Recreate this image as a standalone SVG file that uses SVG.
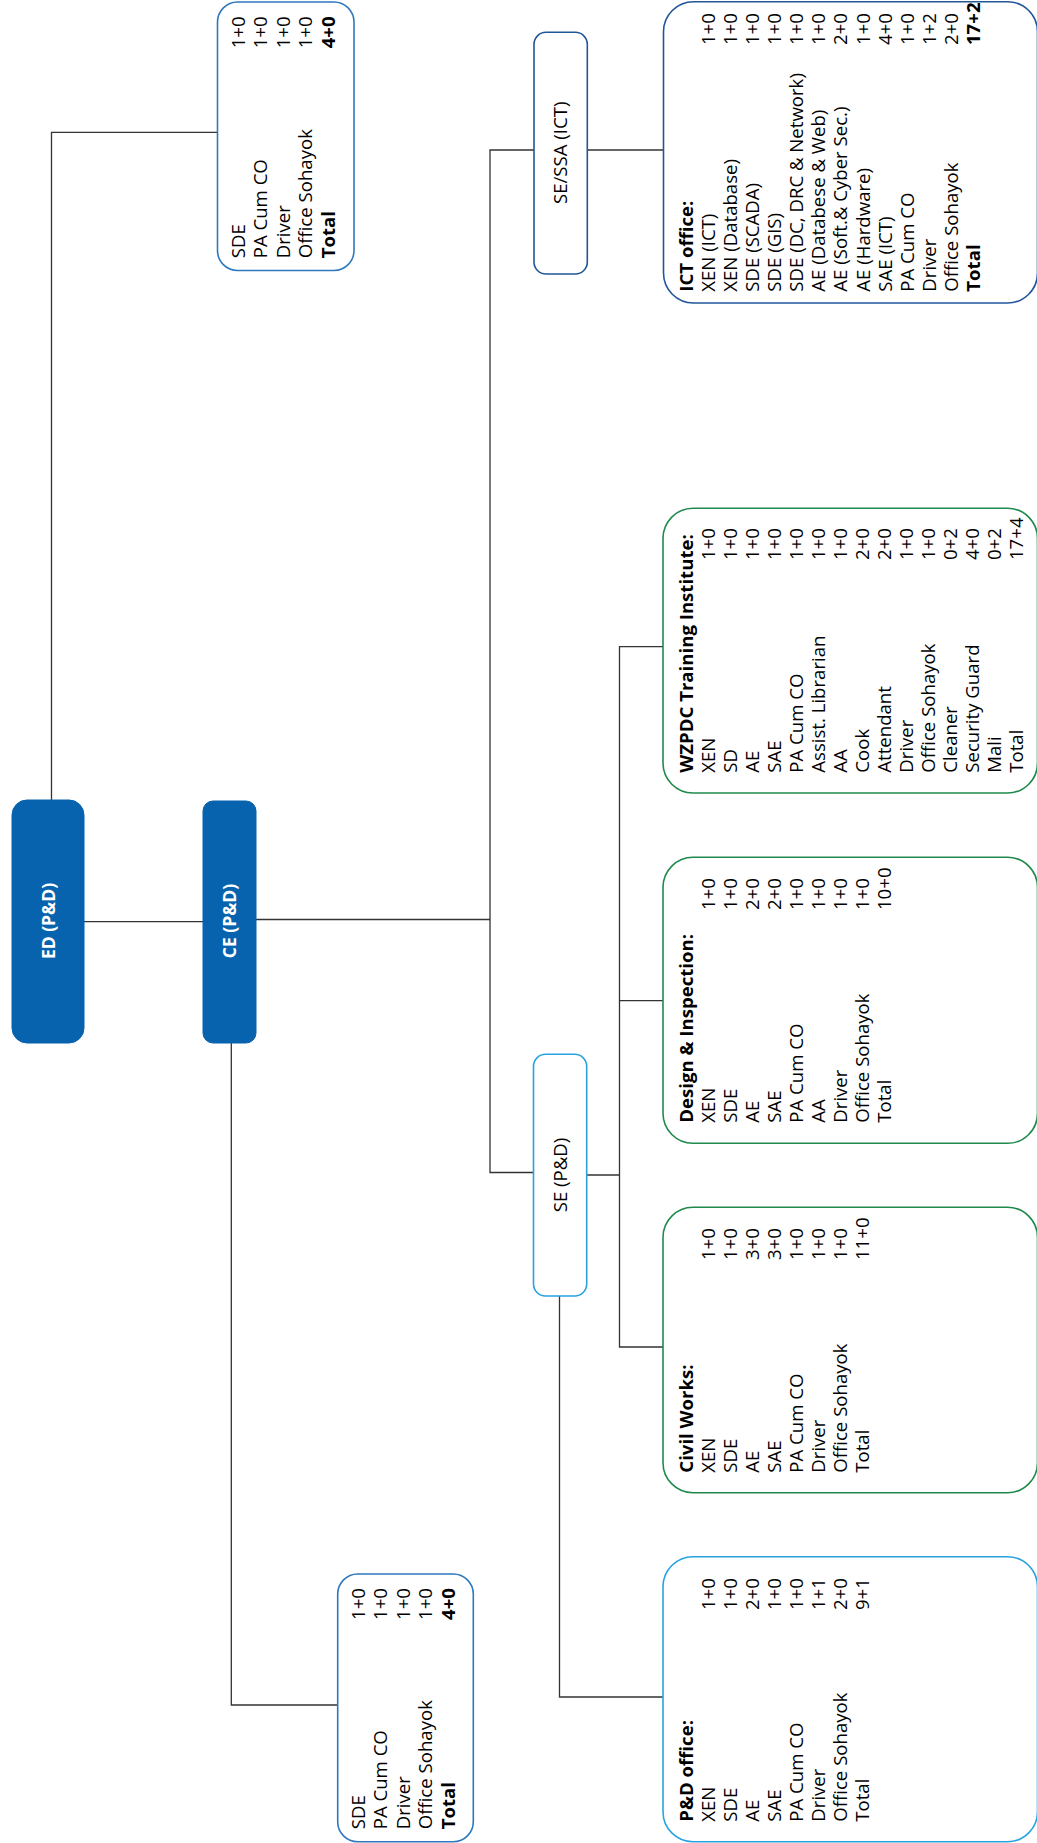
<svg xmlns="http://www.w3.org/2000/svg" width="1037" height="1843" viewBox="0 0 1037 1843">
<style>
text{font-family:"Open Sans","Noto Sans","DejaVu Sans",sans-serif;font-size:18.6px;fill:#000}
.b{font-weight:bold}
.w{fill:#fff;font-weight:bold;font-size:17.5px}
.c{fill:none;stroke:#333;stroke-width:1.3}
.fill{fill:#0763ae;stroke:#0763ae;stroke-width:1}
.mb{fill:#fff;stroke:#2e78c0;stroke-width:1.6}
.db{fill:#fff;stroke:#22569a;stroke-width:1.6}
.lb{fill:#fff;stroke:#29a3e0;stroke-width:1.6}
.gb{fill:#fff;stroke:#1f8a4c;stroke-width:1.6}
</style>
<rect width="1037" height="1843" fill="#fff"/>
<g id="connectors">
<path class="c" d="M51.5 800 V132.3 H217.5"/>
<path class="c" d="M84 921.7 H203"/>
<path class="c" d="M256 919.5 H490"/>
<path class="c" d="M534 150 H490 V1172.5 H534"/>
<path class="c" d="M587 150 H663.5"/>
<path class="c" d="M587 1175 H619.5"/>
<path class="c" d="M663 646.7 H619.5 V1347 H663"/>
<path class="c" d="M619.5 1000.7 H663"/>
<path class="c" d="M559.5 1296 V1697 H663"/>
<path class="c" d="M231.3 1042.7 V1705 H337.7"/>
</g>
<g id="ed">
<rect class="fill" x="12" y="800" width="72" height="243" rx="15"/>
<text class="w" transform="translate(55,921) rotate(-90)" text-anchor="middle">ED (P&amp;D)</text>
</g>
<g id="ce">
<rect class="fill" x="203" y="801" width="53" height="242" rx="10"/>
<text class="w" transform="translate(236.4,921) rotate(-90)" text-anchor="middle">CE (P&amp;D)</text>
</g>
<g id="ed-staff">
<rect class="mb" x="217.5" y="2" width="136.5" height="268.5" rx="20"/>
<text transform="translate(0,258.3) rotate(-90)">
<tspan x="0" y="245">SDE</tspan><tspan x="210" y="245">1+0</tspan>
<tspan x="0" y="267.4">PA Cum CO</tspan><tspan x="210" y="267.4">1+0</tspan>
<tspan x="0" y="289.8">Driver</tspan><tspan x="210" y="289.8">1+0</tspan>
<tspan x="0" y="312.2">Office Sohayok</tspan><tspan x="210" y="312.2">1+0</tspan>
<tspan class="b" x="0" y="334.6">Total</tspan><tspan class="b" x="210" y="334.6">4+0</tspan>
</text>
</g>
<g id="ce-staff">
<rect class="mb" x="337.7" y="1574" width="135.6" height="267.7" rx="20"/>
<text transform="translate(0,1829.3) rotate(-90)">
<tspan x="0" y="365">SDE</tspan><tspan x="209.3" y="365">1+0</tspan>
<tspan x="0" y="387.4">PA Cum CO</tspan><tspan x="209.3" y="387.4">1+0</tspan>
<tspan x="0" y="409.8">Driver</tspan><tspan x="209.3" y="409.8">1+0</tspan>
<tspan x="0" y="432.2">Office Sohayok</tspan><tspan x="209.3" y="432.2">1+0</tspan>
<tspan class="b" x="0" y="454.6">Total</tspan><tspan class="b" x="209.3" y="454.6">4+0</tspan>
</text>
</g>
<g id="se-ict">
<rect class="db" x="534" y="32.3" width="53.3" height="241.7" rx="12"/>
<text transform="translate(566.7,152.8) rotate(-90)" text-anchor="middle">SE/SSA (ICT)</text>
</g>
<g id="se-pd">
<rect class="lb" x="533.5" y="1054.3" width="53.2" height="241.7" rx="12"/>
<text transform="translate(566.7,1175) rotate(-90)" text-anchor="middle">SE (P&amp;D)</text>
</g>
<g id="ict-office">
<rect class="db" x="663.5" y="1.7" width="374" height="301.3" rx="30"/>
<text transform="translate(0,291.7) rotate(-90)">
<tspan class="b" x="0" y="692.7">ICT office:</tspan>
<tspan x="0" y="714.8">XEN (ICT)</tspan><tspan x="246.7" y="714.8">1+0</tspan>
<tspan x="0" y="736.9">XEN (Database)</tspan><tspan x="246.7" y="736.9">1+0</tspan>
<tspan x="0" y="759">SDE (SCADA)</tspan><tspan x="246.7" y="759">1+0</tspan>
<tspan x="0" y="781.1">SDE (GIS)</tspan><tspan x="246.7" y="781.1">1+0</tspan>
<tspan x="0" y="803.2">SDE (DC, DRC &amp; Network)</tspan><tspan x="246.7" y="803.2">1+0</tspan>
<tspan x="0" y="825.3">AE (Databese &amp; Web)</tspan><tspan x="246.7" y="825.3">1+0</tspan>
<tspan x="0" y="847.4">AE (Soft.&amp; Cyber Sec.)</tspan><tspan x="246.7" y="847.4">2+0</tspan>
<tspan x="0" y="869.5">AE (Hardware)</tspan><tspan x="246.7" y="869.5">1+0</tspan>
<tspan x="0" y="891.6">SAE (ICT)</tspan><tspan x="246.7" y="891.6">4+0</tspan>
<tspan x="0" y="913.7">PA Cum CO</tspan><tspan x="246.7" y="913.7">1+0</tspan>
<tspan x="0" y="935.8">Driver</tspan><tspan x="246.7" y="935.8">1+2</tspan>
<tspan x="0" y="957.9">Office Sohayok</tspan><tspan x="246.7" y="957.9">2+0</tspan>
<tspan class="b" x="0" y="980">Total</tspan><tspan class="b" x="246.7" y="980">17+2</tspan>
</text>
</g>
<g id="wzpdc">
<rect class="gb" x="663" y="508.3" width="374.5" height="284.7" rx="30"/>
<text transform="translate(0,772.7) rotate(-90)">
<tspan class="b" x="0" y="692.7">WZPDC Training Institute:</tspan>
<tspan x="0" y="714.7">XEN</tspan><tspan x="212.7" y="714.7">1+0</tspan>
<tspan x="0" y="736.7">SD</tspan><tspan x="212.7" y="736.7">1+0</tspan>
<tspan x="0" y="758.7">AE</tspan><tspan x="212.7" y="758.7">1+0</tspan>
<tspan x="0" y="780.7">SAE</tspan><tspan x="212.7" y="780.7">1+0</tspan>
<tspan x="0" y="802.7">PA Cum CO</tspan><tspan x="212.7" y="802.7">1+0</tspan>
<tspan x="0" y="824.7">Assist. Librarian</tspan><tspan x="212.7" y="824.7">1+0</tspan>
<tspan x="0" y="846.7">AA</tspan><tspan x="212.7" y="846.7">1+0</tspan>
<tspan x="0" y="868.7">Cook</tspan><tspan x="212.7" y="868.7">2+0</tspan>
<tspan x="0" y="890.7">Attendant</tspan><tspan x="212.7" y="890.7">2+0</tspan>
<tspan x="0" y="912.7">Driver</tspan><tspan x="212.7" y="912.7">1+0</tspan>
<tspan x="0" y="934.7">Office Sohayok</tspan><tspan x="212.7" y="934.7">1+0</tspan>
<tspan x="0" y="956.7">Cleaner</tspan><tspan x="212.7" y="956.7">0+2</tspan>
<tspan x="0" y="978.7">Security Guard</tspan><tspan x="212.7" y="978.7">4+0</tspan>
<tspan x="0" y="1000.7">Mali</tspan><tspan x="212.7" y="1000.7">0+2</tspan>
<tspan x="0" y="1022.7">Total</tspan><tspan x="212.7" y="1022.7">17+4</tspan>
</text>
</g>
<g id="design">
<rect class="gb" x="663" y="857.3" width="374.5" height="286" rx="30"/>
<text transform="translate(0,1122.7) rotate(-90)">
<tspan class="b" x="0" y="692.7">Design &amp; Inspection:</tspan>
<tspan x="0" y="714.7">XEN</tspan><tspan x="212.7" y="714.7">1+0</tspan>
<tspan x="0" y="736.7">SDE</tspan><tspan x="212.7" y="736.7">1+0</tspan>
<tspan x="0" y="758.7">AE</tspan><tspan x="212.7" y="758.7">2+0</tspan>
<tspan x="0" y="780.7">SAE</tspan><tspan x="212.7" y="780.7">2+0</tspan>
<tspan x="0" y="802.7">PA Cum CO</tspan><tspan x="212.7" y="802.7">1+0</tspan>
<tspan x="0" y="824.7">AA</tspan><tspan x="212.7" y="824.7">1+0</tspan>
<tspan x="0" y="846.7">Driver</tspan><tspan x="212.7" y="846.7">1+0</tspan>
<tspan x="0" y="868.7">Office Sohayok</tspan><tspan x="212.7" y="868.7">1+0</tspan>
<tspan x="0" y="890.7">Total</tspan><tspan x="212.7" y="890.7">10+0</tspan>
</text>
</g>
<g id="civil">
<rect class="gb" x="663" y="1207.3" width="374.5" height="285.4" rx="30"/>
<text transform="translate(0,1472.7) rotate(-90)">
<tspan class="b" x="0" y="692.7">Civil Works:</tspan>
<tspan x="0" y="714.7">XEN</tspan><tspan x="212.7" y="714.7">1+0</tspan>
<tspan x="0" y="736.7">SDE</tspan><tspan x="212.7" y="736.7">1+0</tspan>
<tspan x="0" y="758.7">AE</tspan><tspan x="212.7" y="758.7">3+0</tspan>
<tspan x="0" y="780.7">SAE</tspan><tspan x="212.7" y="780.7">3+0</tspan>
<tspan x="0" y="802.7">PA Cum CO</tspan><tspan x="212.7" y="802.7">1+0</tspan>
<tspan x="0" y="824.7">Driver</tspan><tspan x="212.7" y="824.7">1+0</tspan>
<tspan x="0" y="846.7">Office Sohayok</tspan><tspan x="212.7" y="846.7">1+0</tspan>
<tspan x="0" y="868.7">Total</tspan><tspan x="212.7" y="868.7">11+0</tspan>
</text>
</g>
<g id="pd-office">
<rect class="lb" x="663" y="1556.7" width="374.5" height="285" rx="30"/>
<text transform="translate(0,1821.7) rotate(-90)">
<tspan class="b" x="0" y="692.7">P&amp;D office:</tspan>
<tspan x="0" y="714.7">XEN</tspan><tspan x="211.7" y="714.7">1+0</tspan>
<tspan x="0" y="736.7">SDE</tspan><tspan x="211.7" y="736.7">1+0</tspan>
<tspan x="0" y="758.7">AE</tspan><tspan x="211.7" y="758.7">2+0</tspan>
<tspan x="0" y="780.7">SAE</tspan><tspan x="211.7" y="780.7">1+0</tspan>
<tspan x="0" y="802.7">PA Cum CO</tspan><tspan x="211.7" y="802.7">1+0</tspan>
<tspan x="0" y="824.7">Driver</tspan><tspan x="211.7" y="824.7">1+1</tspan>
<tspan x="0" y="846.7">Office Sohayok</tspan><tspan x="211.7" y="846.7">2+0</tspan>
<tspan x="0" y="868.7">Total</tspan><tspan x="211.7" y="868.7">9+1</tspan>
</text>
</g>
</svg>
